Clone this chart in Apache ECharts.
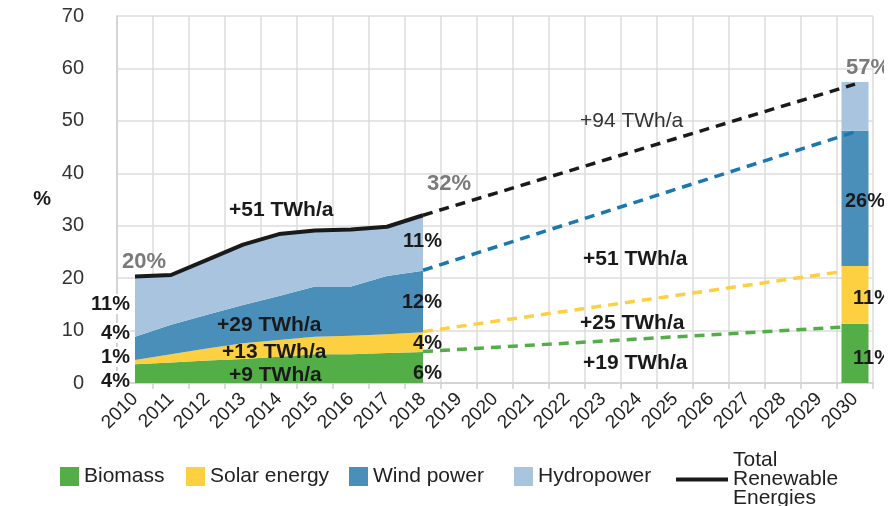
<!DOCTYPE html>
<html>
<head>
<meta charset="utf-8">
<script src="https://cdn.jsdelivr.net/npm/echarts@6/dist/echarts.min.js"></script>
<style>
  html, body { margin: 0; padding: 0; background: #fff; }
  #echarts { width: 895px; height: 506px; }
</style>
</head>
<body>
<div id="echarts"></div>
<script>
// years on the axis
const years = ['2010','2011','2012','2013','2014','2015','2016','2017','2018','2019','2020',
  '2021','2022','2023','2024','2025','2026','2027','2028','2029','2030']

// share of consumption 2010..2018, % (stacked)
const biomass = [3.6, 3.9, 4.3, 4.6, 5.0, 5.5, 5.5, 5.7, 5.9]
const solar   = [0.8, 1.6, 2.3, 3.0, 3.2, 3.3, 3.5, 3.6, 3.8]
const wind    = [4.4, 5.6, 6.4, 7.3, 8.4, 9.6, 9.4, 11.1, 11.7]
const hydro   = [11.5, 9.5, 10.5, 11.5, 11.8, 10.7, 10.9, 9.4, 10.6]
const total   = [20.3, 20.6, 23.5, 26.4, 28.4, 29.1, 29.3, 29.8, 32.0]

// target 2030 bar: biomass, solar, wind, hydro
const target2030 = [11.3, 11.0, 25.8, 9.3]

// dashed trend lines, cumulative level in 2018 -> 2030
const trendBiomass = [6.0, 10.8]
const trendSolar   = [9.8, 21.6]
const trendWind    = [21.5, 47.9]
const trendTotal   = [32.0, 57.0]

const C = {
  biomass: '#53ae48',
  solar: '#fdd041',
  wind: '#4a8fba',
  hydro: '#a9c4de',
  total: '#1a1a1a',
  windLine: '#1a78ad',
  grey: '#7a7a7a'
}
const FONT = '"Liberation Sans", Arial, sans-serif'
const TOTAL = 'Total\nRenewable\nEnergies'

const at2030 = v => years.map(y => y === '2030' ? v : null)
const trend = p => years.map(y => y === '2018' ? p[0] : (y === '2030' ? p[1] : null))

const area = (name, data, color) => ({
  name, type: 'line', stack: 'hist', data, symbol: 'none',
  lineStyle: { width: 0 }, itemStyle: { color },
  areaStyle: { color, opacity: 1 }, z: 2
})
const bar = (name, v, color) => ({
  name: name + ' 2030', type: 'bar', stack: 'target', data: at2030(v),
  barWidth: 27, itemStyle: { color }, z: 3
})
const dashed = (name, p, color, z) => ({
  name, type: 'line', data: trend(p), connectNulls: true, symbol: 'none',
  lineStyle: { color, width: 3.5, type: [10, 7] }, z
})

// one legend box per entry so each sits where the original has it
const key = (name, color, left) => ({
  data: [{ name, itemStyle: { color, borderWidth: 0 } }],
  icon: 'rect', left, top: 461, itemWidth: 19, itemHeight: 19,
  selectedMode: false, textStyle: { fontSize: 21, color: '#222' }
})

const note = (text, x, y, o = {}) => ({
  type: 'text', x, y, z: 100,
  style: Object.assign({
    text, fill: '#1a1a1a', font: 'bold 20px ' + FONT,
    align: 'left', verticalAlign: 'middle'
  }, o)
})
const grey = (text, x, y) => note(text, x, y, { fill: C.grey, font: 'bold 22px ' + FONT })
const twh = (text, x, y) => note(text, x, y, { font: 'bold 21px ' + FONT })
const pctR = (text, x, y) => note(text, x, y, { align: 'right' })
const pctL = (text, x, y) => note(text, x, y, { align: 'right', backgroundColor: '#fff', padding: [0, 0, 0, 2] })

const myChart = echarts.init(document.getElementById('echarts'))
myChart.setOption({
  animation: false,
  textStyle: { fontFamily: FONT },
  grid: { left: 117, right: 22, top: 16, bottom: 123 },
  legend: [
    key('Biomass', C.biomass, 55),
    key('Solar energy', C.solar, 181),
    key('Wind power', C.wind, 344),
    key('Hydropower', C.hydro, 509),
    {
      data: [{ name: TOTAL, icon: 'rect', itemStyle: { color: C.total, borderWidth: 0 } }],
      left: 671, top: 445, itemWidth: 52, itemHeight: 4, selectedMode: false,
      textStyle: { fontSize: 21, lineHeight: 19, color: '#222' }
    }
  ],
  xAxis: {
    type: 'category',
    data: years,
    boundaryGap: true,
    axisLine: { lineStyle: { color: '#cfcfcf', width: 1.5 } },
    axisTick: { show: true, interval: 0, length: 6, lineStyle: { color: '#cfcfcf', width: 1.5 } },
    axisLabel: { interval: 0, rotate: 45, margin: 13, fontSize: 19, color: '#222' },
    splitLine: { show: true, interval: 0, lineStyle: { color: '#dcdcdc', width: 1.5 } }
  },
  yAxis: {
    type: 'value',
    min: 0, max: 70, interval: 10,
    name: '%', nameLocation: 'middle', nameRotate: 0, nameGap: 66,
    nameTextStyle: { fontSize: 20, fontWeight: 'bold', color: '#1a1a1a' },
    axisLine: { show: true, lineStyle: { color: '#cfcfcf', width: 1.5 } },
    axisTick: { show: false },
    axisLabel: { margin: 33, fontSize: 20, color: '#333' },
    splitLine: { lineStyle: { color: '#dcdcdc', width: 1.5 } }
  },
  series: [
    area('Biomass', biomass, C.biomass),
    area('Solar energy', solar, C.solar),
    area('Wind power', wind, C.wind),
    area('Hydropower', hydro, C.hydro),
    dashed('Biomass trend', trendBiomass, C.biomass, 2),
    dashed('Solar trend', trendSolar, C.solar, 2),
    bar('Biomass', target2030[0], C.biomass),
    bar('Solar energy', target2030[1], C.solar),
    bar('Wind power', target2030[2], C.wind),
    bar('Hydropower', target2030[3], C.hydro),
    dashed('Wind trend', trendWind, C.windLine, 4),
    dashed('Total trend', trendTotal, C.total, 4),
    {
      name: TOTAL, type: 'line', data: total, symbol: 'none',
      itemStyle: { color: C.total },
      lineStyle: { color: C.total, width: 4 }, z: 5
    }
  ],
  graphic: [
    grey('20%', 122, 262),
    grey('32%', 427, 184),
    grey('57%', 846, 68),
    twh('+51 TWh/a', 229, 210),
    twh('+29 TWh/a', 217, 325),
    twh('+13 TWh/a', 222, 352),
    twh('+9 TWh/a', 229, 375),
    note('+94 TWh/a', 580, 121, { font: '21px ' + FONT, fill: '#333' }),
    twh('+51 TWh/a', 583, 259),
    twh('+25 TWh/a', 580, 323),
    twh('+19 TWh/a', 583, 363),
    pctL('11%', 130, 304),
    pctL('4%', 130, 333),
    pctL('1%', 130, 357),
    pctL('4%', 130, 381),
    pctR('11%', 442, 241),
    pctR('12%', 442, 302),
    pctR('4%', 442, 343),
    pctR('6%', 442, 373),
    note('26%', 845, 201),
    note('11%', 853, 298),
    note('11%', 853, 358),
    // the source picture is cut off at the right edge
    { type: 'rect', z: 200, shape: { x: 884, y: 0, width: 11, height: 400 }, style: { fill: '#fff' } }
  ]
})
</script>
</body>
</html>
